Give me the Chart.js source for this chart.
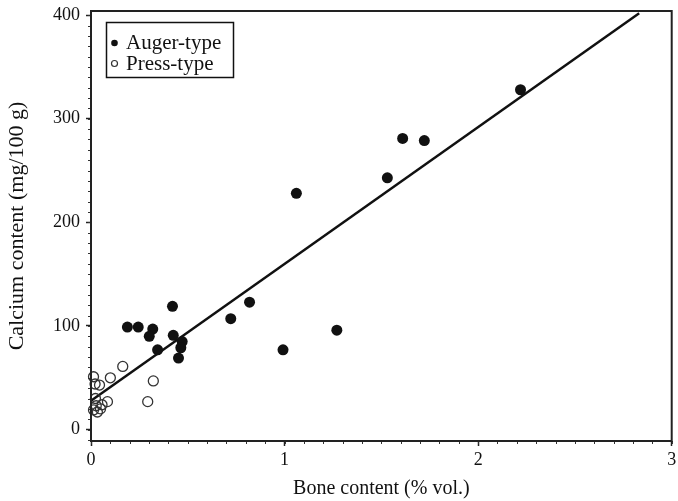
<!DOCTYPE html>
<html>
<head>
<meta charset="utf-8">
<script src="https://cdn.jsdelivr.net/npm/chart.js@4.4.1/dist/chart.umd.min.js"></script>
<style>
    html, body { margin: 0; padding: 0; background: #fff; }
</style>
</head>
<body>
<canvas id="scatterChart" width="678" height="501"></canvas>
<script>
const augerX = [0.188, 0.244, 0.421, 0.319, 0.301, 0.425, 0.471, 0.464, 0.344, 0.452,
                0.722, 0.819, 0.992, 1.270, 1.061, 1.531, 1.610, 1.722, 2.219];
const augerY = [99, 99, 119, 97, 90, 91, 85, 79, 77, 69,
                107, 123, 77, 96, 228, 243, 281, 279, 328];

const pressX = [0.164, 0.100, 0.013, 0.021, 0.044, 0.322, 0.293, 0.085, 0.057, 0.027, 0.013, 0.033, 0.049, 0.023];
const pressY = [61, 50, 51, 44, 43, 47, 27, 27, 24, 23, 19, 17, 20, 30];

const fitX = [0, 2.832];
const fitY = [27.9, 401.8];

const xTickValues = [0, 1, 2, 3];
const yTickValues = [0, 100, 200, 300, 400];

const seriesLabels = ["Auger-type", "Press-type"];
const xTitle = "Bone content (% vol.)";
const yTitle = "Calcium content (mg/100 g)";

const FONT = "'Liberation Serif', 'Times New Roman', serif";

const toPoints = (xs, ys) => xs.map((x, i) => ({ x, y: ys[i] }));

// frame, minor ticks and the boxed legend
const framePlugin = {
    id: "frame",
    afterDraw(chart) {
        const { ctx, chartArea: a, scales: { x, y } } = chart;
        ctx.save();

        ctx.strokeStyle = "#333";
        ctx.lineWidth = 1;
        ctx.beginPath();
        for (let i = 0; i <= 30; i++) {
            const px = Math.round(x.getPixelForValue(i / 10)) + 0.5;
            ctx.moveTo(px, a.bottom);
            ctx.lineTo(px, a.bottom + 3);
        }
        for (let v = -10; v <= 400; v += 10) {
            const py = Math.round(y.getPixelForValue(v)) + 0.5;
            ctx.moveTo(a.left, py);
            ctx.lineTo(a.left - 3, py);
        }
        ctx.stroke();

        ctx.strokeStyle = "#222";
        ctx.lineWidth = 2;
        ctx.strokeRect(a.left, a.top, a.width, a.height);

        // legend
        const lx = 106.5, ly = 22.5;
        ctx.lineWidth = 1.5;
        ctx.strokeStyle = "#111";
        ctx.strokeRect(lx, ly, 127, 55);

        ctx.fillStyle = "#111";
        ctx.beginPath();
        ctx.arc(114.5, 43, 3.3, 0, Math.PI * 2);
        ctx.fill();

        ctx.lineWidth = 1.2;
        ctx.strokeStyle = "#333";
        ctx.beginPath();
        ctx.arc(114.5, 63.5, 3, 0, Math.PI * 2);
        ctx.stroke();

        ctx.fillStyle = "#111";
        ctx.font = `21px ${FONT}`;
        ctx.textBaseline = "middle";
        ctx.textAlign = "left";
        ctx.fillText(seriesLabels[0], 126, 43);
        ctx.fillText(seriesLabels[1], 126, 64);

        ctx.restore();
    }
};

new Chart(document.getElementById("scatterChart"), {
    type: "scatter",
    data: {
        datasets: [
            {
                label: seriesLabels[0],
                data: toPoints(augerX, augerY),
                pointRadius: 5.5,
                pointHoverRadius: 5.5,
                backgroundColor: "#111",
                borderColor: "#111",
                borderWidth: 0,
                clip: false
            },
            {
                label: seriesLabels[1],
                data: toPoints(pressX, pressY),
                pointRadius: 5,
                pointHoverRadius: 5,
                backgroundColor: "rgba(255,255,255,0)",
                borderColor: "#333",
                borderWidth: 1.3,
                clip: false
            },
            {
                type: "line",
                label: "fit",
                data: toPoints(fitX, fitY),
                showLine: true,
                pointRadius: 0,
                borderColor: "#111",
                borderWidth: 2.5,
                fill: false
            }
        ]
    },
    options: {
        responsive: false,
        animation: false,
        devicePixelRatio: 1,
        layout: { padding: { top: 11, right: 1, left: 0, bottom: 0 } },
        plugins: {
            legend: { display: false },
            tooltip: { enabled: false }
        },
        scales: {
            x: {
                type: "linear",
                min: 0,
                max: 3,
                afterBuildTicks: (scale) => {
                    scale.ticks = xTickValues.map((value) => ({ value }));
                },
                afterFit: (scale) => {
                    scale.height = 60;
                    scale.paddingLeft = 0;
                    scale.paddingRight = 0;
                },
                border: { display: false },
                grid: { drawOnChartArea: false, tickLength: 5, tickColor: "#222", tickWidth: 1.5 },
                ticks: { color: "#111", padding: 3, maxRotation: 0, font: { family: FONT, size: 18 } },
                title: {
                    display: true,
                    text: xTitle,
                    color: "#111",
                    padding: { top: 0, bottom: 0 },
                    font: { family: FONT, size: 20 }
                }
            },
            y: {
                type: "linear",
                min: -11,
                max: 404,
                afterBuildTicks: (scale) => {
                    scale.ticks = yTickValues.map((value) => ({ value }));
                },
                afterFit: (scale) => {
                    scale.width = 91;
                    scale.paddingTop = 0;
                    scale.paddingBottom = 0;
                },
                border: { display: false },
                grid: { drawOnChartArea: false, tickLength: 5, tickColor: "#222", tickWidth: 1.5 },
                ticks: { color: "#111", padding: 6, font: { family: FONT, size: 18 } },
                title: {
                    display: true,
                    text: yTitle,
                    color: "#111",
                    padding: { top: 4, bottom: 0 },
                    font: { family: FONT, size: 22 }
                }
            }
        }
    },
    plugins: [framePlugin]
});
</script>
</body>
</html>
